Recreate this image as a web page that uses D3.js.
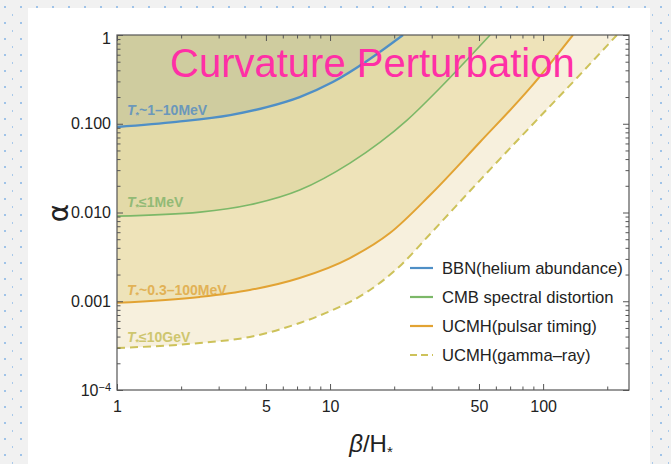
<!DOCTYPE html>
<html><head><meta charset="utf-8">
<script src="https://cdn.jsdelivr.net/npm/d3@7"></script>
<style>body{margin:0;padding:0;overflow:hidden}svg{display:block}</style>
</head><body>
<svg id="c" width="671" height="464"></svg>
<script>
// ---- data: [beta/H*, alpha] ----
const bbnBeta   = [1, 1.9, 3.4, 5.05, 7.2, 10.3, 14.9, 22.0];
const bbnAlpha  = [0.092, 0.105, 0.125, 0.154, 0.2, 0.295, 0.51, 1.0];
const cmbBeta   = [1, 2.45, 4.2, 7.2, 12.4, 17.2, 23.0, 32.8, 56.4];
const cmbAlpha  = [0.0091, 0.0101, 0.0122, 0.0179, 0.036, 0.062, 0.11, 0.253, 1.0];
const pulBeta   = [1, 2.45, 4.2, 7.2, 12.4, 19.1, 29.5, 50.6, 86.9, 138];
const pulAlpha  = [0.00096, 0.00112, 0.00134, 0.00183, 0.00307, 0.00587, 0.01575, 0.0623, 0.253, 1.0];
const gamBeta   = [1, 2.45, 4.2, 7.2, 10.3, 14.9, 21.3, 29.5, 50.6, 86.9, 144, 222];
const gamAlpha  = [0.000297, 0.000339, 0.000396, 0.000569, 0.000797, 0.00127, 0.0025, 0.00573, 0.0232, 0.0919, 0.328, 1.0];

const seriesNames  = ["BBN(helium abundance)", "CMB spectral distortion", "UCMH(pulsar timing)", "UCMH(gamma\u2013ray)"];
const curveLabels  = ["~1\u201310MeV", "\u22641MeV", "~0.3\u2013100MeV", "\u226410GeV"];
const xMajorTicks  = [1, 5, 10, 50, 100];
const xMinorTicks  = [2, 3, 4, 6, 7, 8, 9, 20, 30, 40, 60, 70, 80, 90, 200];
const yMajorTicks  = [1, 0.1, 0.01, 0.001, 0.0001];
const yTickLabels  = ["1", "0.100", "0.010", "0.001", "10"];
const yMinorTicks  = [];
[0.0001, 0.001, 0.01, 0.1].forEach(d => { for (let k = 2; k <= 9; k++) yMinorTicks.push(d * k); });

const zip = (b, a) => b.map((v, i) => [v, a[i]]);
const series = [
  {pts: zip(bbnBeta, bbnAlpha), color: "#4f8fc6", fill: "#cfcc9f", w: 2.4, dash: null, lab: "#5a8fc0", labY: 0.125},
  {pts: zip(cmbBeta, cmbAlpha), color: "#7cb868", fill: "#e3daa8", w: 1.6, dash: null, lab: "#85b56e", labY: 0.0115},
  {pts: zip(pulBeta, pulAlpha), color: "#e2a333", fill: "#eee3b9", w: 2.0, dash: null, lab: "#e0aa45", labY: 0.00118},
  {pts: zip(gamBeta, gamAlpha), color: "#cdc25a", fill: "#f7f0dd", w: 2.0, dash: "8,5", lab: "#c8bf5c", labY: 0.000347}
];

const svg = d3.select("#c");
const W = 671, H = 464;

// ---- slide background ----
const defs = svg.append("defs");
const pat = defs.append("pattern").attr("id", "dots").attr("patternUnits", "userSpaceOnUse")
  .attr("width", 16).attr("height", 16);
pat.append("rect").attr("width", 16).attr("height", 16).attr("fill", "#f1f1f1");
pat.append("rect").attr("x", 4).attr("y", 6).attr("width", 2).attr("height", 2).attr("fill", "#9fc3e8");
pat.append("rect").attr("x", 12).attr("y", 14).attr("width", 1).attr("height", 2).attr("fill", "#a9c9ea");
svg.append("rect").attr("width", W).attr("height", H).attr("fill", "url(#dots)");
svg.append("rect").attr("x", 28).attr("y", 8).attr("width", 622).attr("height", H - 8).attr("fill", "#ffffff");

// ---- scales ----
const L = 117, R = 629, T = 35, B = 390;
const x = d3.scaleLog().domain([1, 253]).range([L, R]);
const y = d3.scaleLog().domain([1e-4, 1]).range([B, T]);

defs.append("clipPath").attr("id", "plotclip").append("rect")
  .attr("x", L).attr("y", T).attr("width", R - L).attr("height", B - T);

const g = svg.append("g").attr("clip-path", "url(#plotclip)");

const area = d3.area().x(d => x(d[0])).y0(y(1)).y1(d => y(d[1])).curve(d3.curveMonotoneX);
const line = d3.line().x(d => x(d[0])).y(d => y(d[1])).curve(d3.curveMonotoneX);

// fills, lightest (bottom) first
[3, 2, 1, 0].forEach(i => {
  g.append("path").attr("d", area(series[i].pts)).attr("fill", series[i].fill);
});
[3, 2, 1, 0].forEach(i => {
  const s = series[i];
  g.append("path").attr("d", line(s.pts)).attr("fill", "none")
    .attr("stroke", s.color).attr("stroke-width", s.w)
    .attr("stroke-dasharray", s.dash);
});

// curve labels
series.forEach((s, i) => {
  const t = svg.append("text").attr("x", 127).attr("y", y(s.labY))
    .attr("font-family", "Liberation Sans, Arial, sans-serif").attr("font-weight", "bold")
    .attr("font-size", 14).attr("fill", s.lab).attr("opacity", 0.85);
  t.append("tspan").attr("font-style", "italic").text("T");
  t.append("tspan").attr("font-size", 9).attr("dy", 3).text("*");
  t.append("tspan").attr("dy", -3).text(curveLabels[i]);
});

// ---- axes (Mathematica-style frame, ticks inward) ----
const axCol = "#555";
function styleAxis(sel) {
  sel.select(".domain").remove();
  sel.selectAll("line").attr("stroke", axCol);
  sel.selectAll("text").attr("font-family", "Liberation Sans, Arial, sans-serif")
    .attr("font-size", 16).attr("fill", "#222");
}
const fmtY = d => yTickLabels[yMajorTicks.indexOf(d)];

const gb = svg.append("g").attr("transform", `translate(0,${B})`)
  .call(d3.axisBottom(x).tickValues(xMajorTicks).tickSize(-6).tickPadding(11).tickFormat(d3.format("d")));
styleAxis(gb);
svg.append("g").attr("transform", `translate(0,${B})`)
  .call(d3.axisBottom(x).tickValues(xMinorTicks).tickSize(-3.5).tickFormat("")).call(styleAxis);
svg.append("g").attr("transform", `translate(0,${T})`)
  .call(d3.axisTop(x).tickValues(xMajorTicks).tickSize(-6).tickFormat("")).call(styleAxis);
svg.append("g").attr("transform", `translate(0,${T})`)
  .call(d3.axisTop(x).tickValues(xMinorTicks).tickSize(-3.5).tickFormat("")).call(styleAxis);

const gl = svg.append("g").attr("transform", `translate(${L},0)`)
  .call(d3.axisLeft(y).tickValues(yMajorTicks).tickSize(-6).tickPadding(6).tickFormat(fmtY));
styleAxis(gl);
gl.selectAll("text").filter(d => d === 1e-4)
  .append("tspan").attr("dy", "-0.45em").attr("font-size", 11).text("\u22124");
gl.selectAll("text").filter(d => d === 1).attr("dy", "0.5em");
svg.append("g").attr("transform", `translate(${L},0)`)
  .call(d3.axisLeft(y).tickValues(yMinorTicks).tickSize(-3.5).tickFormat("")).call(styleAxis);
svg.append("g").attr("transform", `translate(${R},0)`)
  .call(d3.axisRight(y).tickValues(yMajorTicks).tickSize(-6).tickFormat("")).call(styleAxis);
svg.append("g").attr("transform", `translate(${R},0)`)
  .call(d3.axisRight(y).tickValues(yMinorTicks).tickSize(-3.5).tickFormat("")).call(styleAxis);

svg.append("rect").attr("x", L).attr("y", T).attr("width", R - L).attr("height", B - T)
  .attr("fill", "none").attr("stroke", axCol).attr("stroke-width", 1.2);

// axis titles
const xt = svg.append("text").attr("x", 371).attr("y", 452).attr("text-anchor", "middle")
  .attr("font-family", "Liberation Sans, Arial, sans-serif").attr("font-size", 24).attr("fill", "#222");
xt.append("tspan").attr("font-style", "italic").text("\u03b2");
xt.append("tspan").text("/H");
xt.append("tspan").attr("font-size", 15).attr("dy", 5).text("*");

svg.append("text").attr("transform", "translate(68,213) rotate(-90)").attr("text-anchor", "middle")
  .attr("font-family", "DejaVu Sans, Liberation Sans, sans-serif")
  .attr("font-size", 28).attr("fill", "#222").text("\u03b1");

// title
svg.append("text").attr("x", 170).attr("y", 77)
  .attr("font-family", "Liberation Sans, Arial, sans-serif").attr("font-size", 40)
  .attr("fill", "#ff2fa6").text("Curvature Perturbation");

// legend
const legY = [268, 297, 326, 355];
series.forEach((s, i) => {
  svg.append("line").attr("x1", 410).attr("x2", 433).attr("y1", legY[i]).attr("y2", legY[i])
    .attr("stroke", s.color).attr("stroke-width", 2.2).attr("stroke-dasharray", s.dash ? "7,4" : null);
  svg.append("text").attr("x", 442).attr("y", legY[i]).attr("dy", "0.36em")
    .attr("font-family", "Liberation Sans, Arial, sans-serif").attr("font-size", 16.6)
    .attr("fill", "#222").text(seriesNames[i]);
});
</script>
</body></html>
